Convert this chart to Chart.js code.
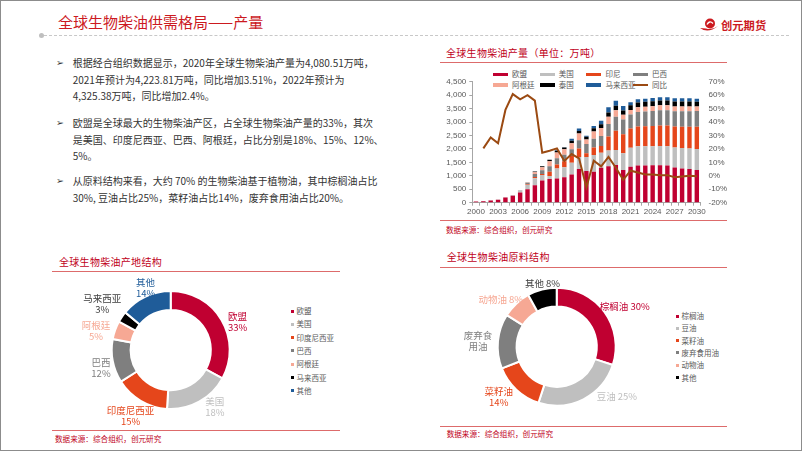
<!DOCTYPE html>
<html>
<head>
<meta charset="utf-8">
<script src="https://cdn.jsdelivr.net/npm/chart.js@4.4.1/dist/chart.umd.min.js"></script>
<style>
  body { margin: 0; width: 802px; height: 451px; position: relative; background: #fff; overflow: hidden;
         font-family: "Noto Sans CJK SC", "Noto Sans", sans-serif; }
  .frame { position: absolute; left: 0; top: 0; width: 800px; height: 449px; border: 1px solid #8c8c8c; }
  .abs { position: absolute; white-space: nowrap; }
  .title { left: 58px; top: 12px; font-size: 15px; line-height: 20px; color: #cc1a1f; }
  .dash { left: 44px; top: 35px; width: 745px; border-top: 1px dashed #c8c8c8; }
  .dot { left: 39px; top: 32.5px; width: 5px; height: 5px; border-radius: 50%; background: #bfbfbf; }
  .logo { left: 721px; top: 17px; font-size: 11.3px; font-weight: bold; color: #cc1a1f; line-height: 16px; }
  .para { left: 56px; font-size: 10px; line-height: 16.7px; color: #333; }
  .para .b { position: absolute; left: 0; top: 0; font-size: 9.5px; font-family: "DejaVu Sans"; color: #333; }
  .para .t { position: absolute; left: 16.7px; }
  .sec { font-size: 10px; line-height: 14px; color: #c0001a; letter-spacing: 0.3px; }
  .rule { height: 0; border-top: 1px solid #dd6b6b; }
  .src { font-size: 7.6px; line-height: 10px; color: #c0001a; }
  .lg { font-size: 7.5px; line-height: 10px; color: #595959; }
</style>
</head>
<body>
<div class="frame"></div>
<div class="abs title">全球生物柴油供需格局——产量</div>
<div class="abs dot"></div>
<div class="abs dash"></div>
<svg class="abs" style="left:699px;top:17px" width="20" height="16" viewBox="0 0 20 16">
  <path d="M1 11 Q9 17 19 9 Q13 13.5 7 11.5 Z" fill="#cc1a1f"/>
  <circle cx="11" cy="6.5" r="5" fill="#cc1a1f"/>
  <path d="M8 7.5 Q10.5 3 14 6.5" stroke="#fff" stroke-width="1.3" fill="none"/>
</svg>
<div class="abs logo">创元期货</div>

<div class="abs para" style="top:55px">
  <span class="b">➢</span>
  <div class="t">根据经合组织数据显示，2020年全球生物柴油产量为4,080.51万吨，<br>2021年预计为4,223.81万吨，同比增加3.51%，2022年预计为<br>4,325.38万吨，同比增加2.4%。</div>
</div>
<div class="abs para" style="top:115px">
  <span class="b">➢</span>
  <div class="t">欧盟是全球最大的生物柴油产区，占全球生物柴油产量的33%，其次<br>是美国、印度尼西亚、巴西、阿根廷，占比分别是18%、15%、12%、<br>5%。</div>
</div>
<div class="abs para" style="top:173.4px">
  <span class="b">➢</span>
  <div class="t">从原料结构来看，大约 70% 的生物柴油基于植物油，其中棕榈油占比<br>30%, 豆油占比25%，菜籽油占比14%，废弃食用油占比20%。</div>
</div>

<!-- 产量 -->
<div class="abs sec" style="left:446px;top:45.5px">全球生物柴油产量（单位：万吨）</div>
<div class="abs rule" style="left:440px;top:62px;width:287px"></div>
<div id="barLegend"></div>
<canvas id="barChart" class="abs" style="left:430px;top:60px"></canvas>
<div class="abs rule" style="left:440px;top:220px;width:287px"></div>
<div class="abs src" style="left:446px;top:225px">数据来源：综合组织，创元研究</div>

<!-- 产地结构 -->
<div class="abs sec" style="left:59px;top:254.7px">全球生物柴油产地结构</div>
<div class="abs rule" style="left:52px;top:271px;width:288px"></div>
<canvas id="regionChart" class="abs" style="left:60px;top:272px"></canvas>
<div id="regionLegend"></div>
<div class="abs rule" style="left:52px;top:429.5px;width:288px"></div>
<div class="abs src" style="left:55px;top:434.3px">数据来源：综合组织，创元研究</div>

<!-- 原料结构 -->
<div class="abs sec" style="left:446.7px;top:250.3px">全球生物柴油原料结构</div>
<div class="abs rule" style="left:440px;top:267px;width:287px"></div>
<canvas id="feedChart" class="abs" style="left:450px;top:270px"></canvas>
<div id="feedLegend"></div>
<div class="abs rule" style="left:440px;top:425.5px;width:287px"></div>
<div class="abs src" style="left:446.7px;top:429.3px">数据来源：综合组织，创元研究</div>

<script>
// 产量（万吨）
const years = ['2000','2001','2002','2003','2004','2005','2006','2007','2008','2009','2010',
  '2011','2012','2013','2014','2015','2016','2017','2018','2019','2020',
  '2021','2022','2023','2024','2025','2026','2027','2028','2029','2030'];
const euProd     = [45,55,80,110,190,260,380,500,650,830,880,900,950,1050,1250,1180,1150,1300,1360,1400,1220,1340,1380,1380,1390,1390,1380,1310,1270,1250,1220];
const usProd     = [3,5,8,10,10,25,80,170,260,200,110,370,370,440,450,520,620,560,580,560,620,700,720,720,710,720,720,740,760,770,780];
const indoProd   = [0,0,0,0,0,0,5,30,50,40,160,150,220,250,320,140,280,250,520,720,710,720,730,740,750,760,770,780,790,800,820];
const brazilProd = [0,0,0,0,0,0,5,30,110,140,210,230,240,250,300,340,330,370,470,520,540,520,540,550,560,570,570,570,580,580,590];
const argProd    = [0,0,0,0,0,0,0,10,60,110,180,220,210,220,250,170,270,300,270,240,180,170,180,180,180,180,180,180,180,180,170];
const thaiProd   = [0,0,0,0,0,0,0,10,30,40,60,60,60,90,100,100,120,140,150,170,160,170,180,180,180,180,180,180,180,180,170];
const malayProd  = [0,0,0,0,0,0,0,0,0,0,0,20,10,80,90,40,80,130,200,180,170,120,120,120,120,120,120,120,120,120,120];
const yoy = [null,20.4,28.6,24.2,49,60.8,56.9,60,55.9,17.2,18.7,20.4,11,16.2,13,-8.5,11.2,7,14,6,-3,3.8,2.5,1,1,0.5,0.5,-1,-0.5,0,-0.3];

// 产地结构 (%)
const regionNames = ['欧盟','美国','印度尼西亚','巴西','阿根廷','马来西亚','其他'];
const regionShare = [33,18,15,12,5,3,14];

// 原料结构 (%)
const feedNames = ['棕榈油','豆油','菜籽油','废弃食用油','动物油','其他'];
const feedShare = [30,25,14,15,8,8];
const feedLabelText = [['棕榈油 30%'],['豆油 25%'],['菜籽油','14%'],['废弃食','用油'],['动物油 8%'],['其他 8%']];

const C = { eu:'#c00031', us:'#bfbfbf', indo:'#e5461b', brazil:'#7f7f7f', arg:'#f6a894', black:'#000000', blue:'#1f5c99', line:'#9b4a12' };
const tickFont = { family: 'Liberation Sans', size: 8 };

function bar(label, data, color) {
  return { type: 'bar', label: label, data: data, backgroundColor: color, yAxisID: 'y', order: 1,
           barPercentage: 0.75, categoryPercentage: 0.8 };
}

const barDatasets = [
  bar('欧盟', euProd, C.eu),
  bar('美国', usProd, C.us),
  bar('印尼', indoProd, C.indo),
  bar('巴西', brazilProd, C.brazil),
  bar('阿根廷', argProd, C.arg),
  bar('泰国', thaiProd, C.black),
  bar('马来西亚', malayProd, C.blue),
  { type: 'line', label: '同比', data: yoy, yAxisID: 'y1', order: 0, borderColor: C.line,
    backgroundColor: C.line, borderWidth: 2, pointRadius: 0, tension: 0 }
];

const barCanvas = document.getElementById('barChart');
barCanvas.width = 320; barCanvas.height = 160;
new Chart(barCanvas, {
  data: { labels: years, datasets: barDatasets },
  options: {
    responsive: false, animation: false, events: [],
    layout: { padding: { top: 21.7, left: 0, right: 0, bottom: 0 } },
    plugins: { legend: { display: false }, tooltip: { enabled: false } },
    scales: {
      x: {
        stacked: true,
        afterFit: s => { s.height = 17.3; },
        border: { display: true, color: '#a6a6a6' },
        grid: { display: true, drawOnChartArea: false, tickLength: 3, color: '#a6a6a6' },
        ticks: { autoSkip: false, maxRotation: 0, padding: 1, color: '#595959', font: tickFont,
                 callback: function (v, i) { return i % 3 === 0 ? years[i] : ''; } }
      },
      y: {
        stacked: true, min: 0, max: 4500,
        afterFit: s => { s.width = 42.3; },
        border: { display: true, color: '#a6a6a6' },
        grid: { display: true, drawOnChartArea: false, tickLength: 3, color: '#a6a6a6' },
        ticks: { stepSize: 500, padding: 3, color: '#595959', font: tickFont,
                 callback: v => v.toLocaleString('en-US') }
      },
      y1: {
        position: 'right', min: -20, max: 70,
        afterFit: s => { s.width = 49.5; },
        border: { display: false },
        grid: { display: false, drawTicks: false, tickLength: 0 },
        ticks: { stepSize: 10, padding: 8, color: '#595959', font: tickFont, callback: v => v + '%' }
      }
    }
  }
});

// bar legend in a 4-column grid
(function () {
  const box = document.getElementById('barLegend');
  barDatasets.forEach((ds, i) => {
    const col = i % 4, row = Math.floor(i / 4);
    const x = 493 + col * 46.7, y = 74.3 + row * 10.7;
    const sw = document.createElement('div');
    sw.className = 'abs';
    const h = ds.type === 'line' ? 2 : 3.5;
    sw.style.cssText = `left:${x}px;top:${y - h / 2}px;width:15px;height:${h}px;background:${ds.type === 'line' ? ds.borderColor : ds.backgroundColor}`;
    box.appendChild(sw);
    const t = document.createElement('div');
    t.className = 'abs lg';
    t.style.left = (x + 19) + 'px';
    t.style.top = (y - 5) + 'px';
    t.textContent = ds.label;
    box.appendChild(t);
  });
})();

// outside labels for the rings
const ringLabels = {
  id: 'ringLabels',
  afterDatasetsDraw(chart, args, opts) {
    const ctx = chart.ctx;
    const meta = chart.getDatasetMeta(0);
    ctx.save();
    ctx.font = '9.5px "Noto Sans CJK SC"';
    ctx.textAlign = 'center';
    ctx.textBaseline = 'middle';
    meta.data.forEach((arc, i) => {
      const p = arc.getProps(['x', 'y', 'startAngle', 'endAngle', 'outerRadius'], true);
      const mid = (p.startAngle + p.endAngle) / 2;
      const r = p.outerRadius + 14;
      const n = opts.nudge[i] || [0, 0];
      const cx = p.x + Math.cos(mid) * r + n[0];
      const cy = p.y + Math.sin(mid) * r + n[1];
      const lines = opts.text[i];
      ctx.fillStyle = opts.colors[i];
      lines.forEach((s, k) => ctx.fillText(s, cx, cy + (k - (lines.length - 1) / 2) * 11));
    });
    ctx.restore();
  }
};

function ring(id, w, h, pad, labels, values, colors, labelText, labelColors, nudge) {
  const cv = document.getElementById(id);
  cv.width = w; cv.height = h;
  return new Chart(cv, {
    type: 'doughnut',
    data: { labels: labels, datasets: [{ data: values, backgroundColor: colors, borderColor: '#fff', borderWidth: 2 }] },
    options: {
      responsive: false, animation: false, events: [], cutout: '68%',
      layout: { padding: pad },
      plugins: { legend: { display: false }, tooltip: { enabled: false },
                 ringLabels: { text: labelText, colors: labelColors, nudge: nudge } }
    },
    plugins: [ringLabels]
  });
}

function ringLegend(id, names, colors, x, y0, step) {
  const box = document.getElementById(id);
  names.forEach((n, i) => {
    const y = y0 + i * step;
    const sq = document.createElement('div');
    sq.className = 'abs';
    sq.style.cssText = `left:${x}px;top:${y - 1.5}px;width:3px;height:3px;background:${colors[i]}`;
    box.appendChild(sq);
    const t = document.createElement('div');
    t.className = 'abs lg';
    t.style.left = (x + 5.5) + 'px';
    t.style.top = (y - 5) + 'px';
    t.textContent = n;
    box.appendChild(t);
  });
}

const regionColors = [C.eu, C.us, C.indo, C.brazil, C.arg, C.black, C.blue];
ring('regionChart', 220, 156, { left: 50.7, right: 49.3, top: 18, bottom: 18 },
  regionNames, regionShare, regionColors,
  regionNames.map((n, i) => [n, regionShare[i] + '%']),
  [C.eu, C.us, C.indo, C.brazil, C.arg, '#404040', C.blue],
  [[4, 9], [9, -7], [-3, 3], [2, 4], [-6, 6], [-8, -5], [6, 4]]);
ringLegend('regionLegend', regionNames, regionColors, 291, 311, 13.3);

const feedColors = [C.eu, C.us, C.indo, C.brazil, C.arg, C.black];
ring('feedChart', 220, 155, { left: 46.7, right: 53.3, top: 16.7, bottom: 18.3 },
  feedNames, feedShare, feedColors, feedLabelText,
  [C.eu, C.us, C.indo, C.brazil, C.arg, '#404040'],
  [[9, 3], [27, -15], [-8, -3], [-6, 1], [-6, 6], [4, 7]]);
ringLegend('feedLegend', feedNames, feedColors, 676, 316, 12.3);
</script>
</body>
</html>
